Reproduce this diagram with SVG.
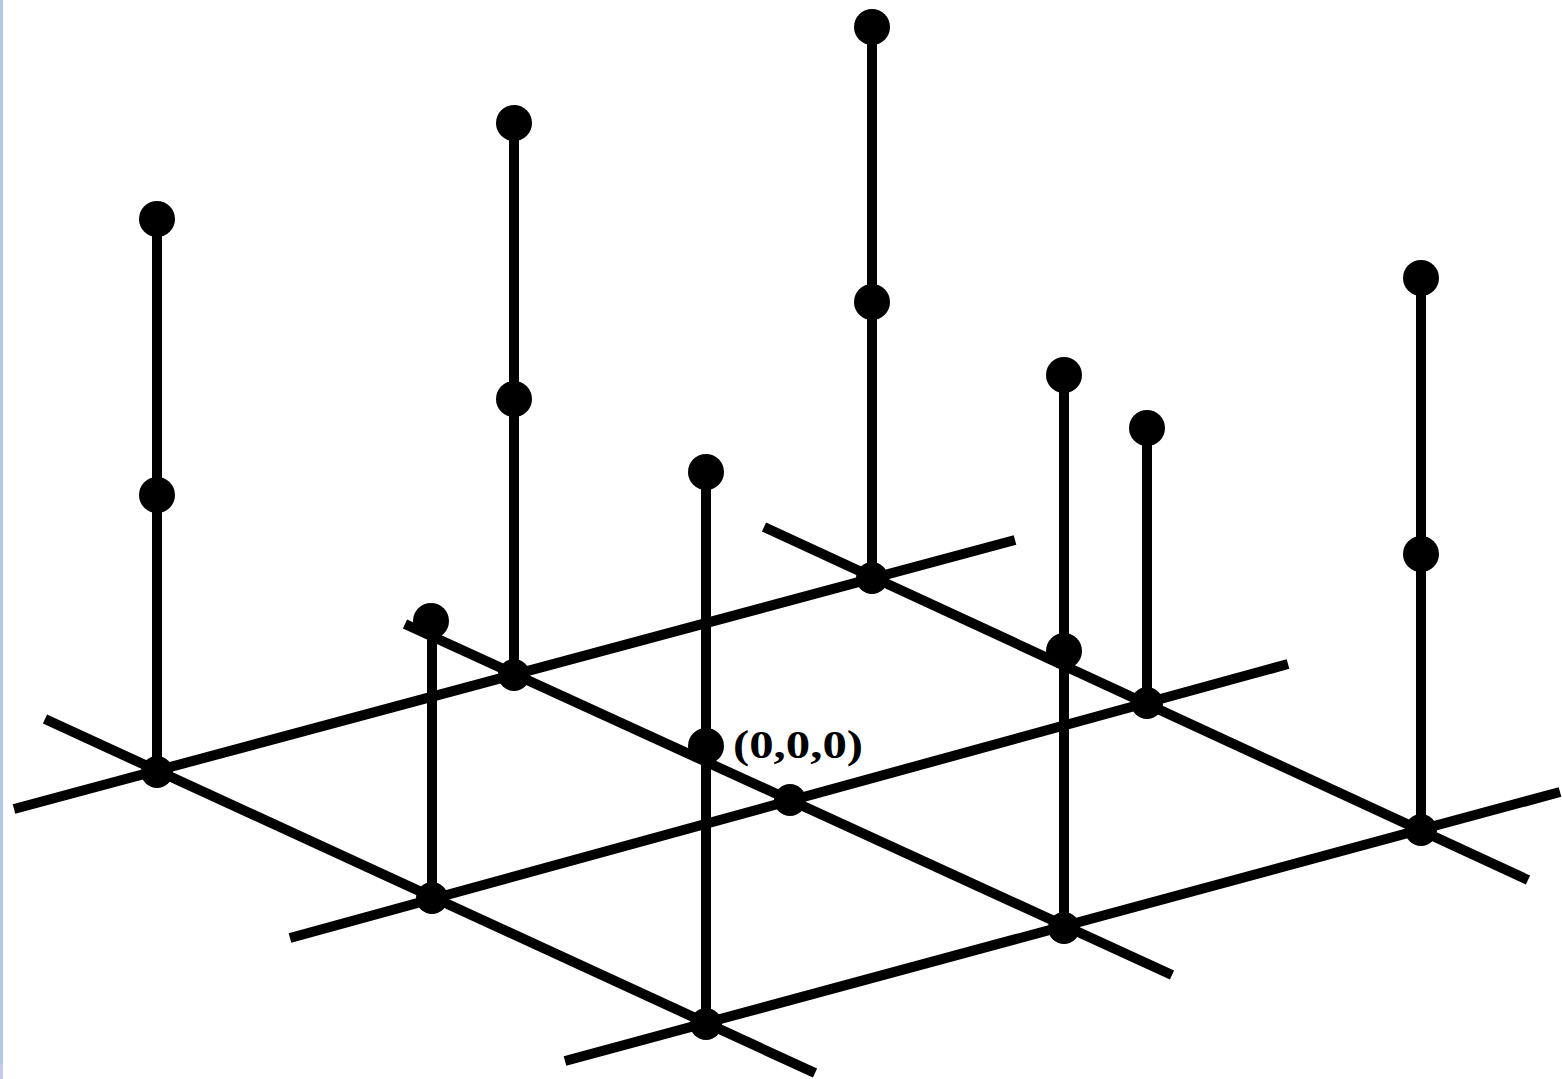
<svg xmlns="http://www.w3.org/2000/svg" width="1562" height="1079" viewBox="0 0 1562 1079">
<style>
.ln{stroke:#000;stroke-width:10;fill:none;stroke-linecap:butt}
.pole{stroke:#000;stroke-width:10;fill:none}
.dot{fill:#000}
.nd{fill:#000}
.lbl{font-family:"Liberation Serif",serif;font-weight:bold;font-size:40px;fill:#000}
</style>
<rect x="0" y="0" width="1562" height="1079" fill="#fff"/>
<rect x="0" y="0" width="3" height="1064" fill="#b4c8e4"/>
<rect x="0" y="1064" width="3" height="15" fill="#c8c8f0"/>
<g id="connectors">
<line class="ln" x1="45" y1="719" x2="815" y2="1073"/>
<line class="ln" x1="405" y1="624" x2="1172" y2="975"/>
<line class="ln" x1="764" y1="527" x2="1528" y2="880"/>
<line class="ln" x1="14" y1="809" x2="1015" y2="540"/>
<line class="ln" x1="290" y1="938" x2="1288" y2="664"/>
<line class="ln" x1="565" y1="1061" x2="1560" y2="792"/>
<line class="pole" x1="157" y1="772" x2="157" y2="219"/>
<line class="pole" x1="514" y1="675" x2="514" y2="123"/>
<line class="pole" x1="872" y1="578" x2="872" y2="27"/>
<line class="pole" x1="432" y1="898" x2="432" y2="621"/>
<line class="pole" x1="706" y1="1024" x2="706" y2="472"/>
<line class="pole" x1="1064" y1="928" x2="1064" y2="375"/>
<line class="pole" x1="1147" y1="703" x2="1147" y2="428"/>
<line class="pole" x1="1421" y1="830" x2="1421" y2="278"/>
</g>
<g id="grid-nodes">
<circle class="nd" cx="157" cy="772" r="16"/>
<circle class="nd" cx="432" cy="898" r="16"/>
<circle class="nd" cx="706" cy="1024" r="16"/>
<circle class="nd" cx="514" cy="675" r="16"/>
<circle class="nd" cx="790" cy="800" r="16"/>
<circle class="nd" cx="1064" cy="928" r="16"/>
<circle class="nd" cx="872" cy="578" r="16"/>
<circle class="nd" cx="1147" cy="703" r="16"/>
<circle class="nd" cx="1421" cy="830" r="16"/>
</g>
<g id="pole-157"><circle class="dot" cx="157" cy="495" r="18"/><circle class="dot" cx="157" cy="219" r="18"/></g>
<g id="pole-514"><circle class="dot" cx="514" cy="399" r="18"/><circle class="dot" cx="514" cy="123" r="18"/></g>
<g id="pole-872"><circle class="dot" cx="872" cy="302" r="18"/><circle class="dot" cx="872" cy="27" r="18"/></g>
<g id="pole-432"><circle class="dot" cx="431" cy="621" r="18"/></g>
<g id="pole-706"><circle class="dot" cx="706" cy="746" r="18"/><circle class="dot" cx="706" cy="472" r="18"/></g>
<g id="pole-1064"><circle class="dot" cx="1064" cy="651" r="18"/><circle class="dot" cx="1064" cy="375" r="18"/></g>
<g id="pole-1147"><circle class="dot" cx="1147" cy="428" r="18"/></g>
<g id="pole-1421"><circle class="dot" cx="1421" cy="554" r="18"/><circle class="dot" cx="1421" cy="278" r="18"/></g>
<g id="origin-label"><text class="lbl" x="733" y="758" textLength="130" lengthAdjust="spacingAndGlyphs">(0,0,0)</text></g>
</svg>
